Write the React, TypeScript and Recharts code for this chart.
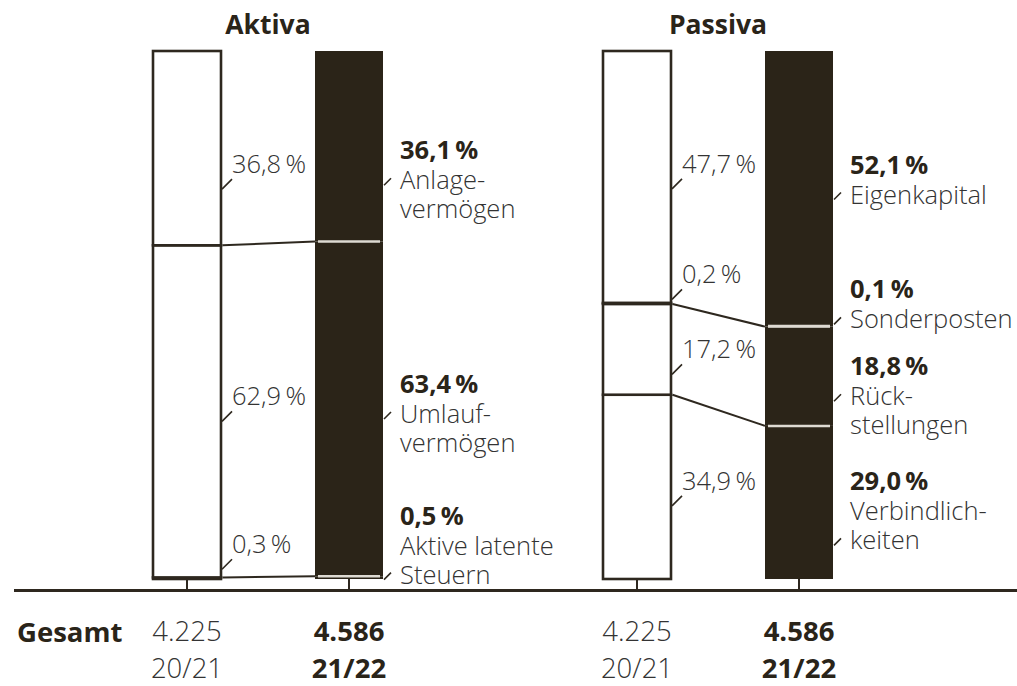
import React from "react";
import { BarChart, Bar, XAxis, YAxis } from "recharts";

const FONT = "'Open Sans', 'DejaVu Sans', sans-serif";
const INK = "#2e281f";
const DARK = "#2b2418";
const TEXT = "#333333";
const BOLD_INK = "#2a2419";
const FS = 25.5;
const FS_TOTAL = 27.5;

const years = ["20/21", "21/22"];

// Bilanzsumme in Mio. €
const aktivaTotal = [4225, 4586];
const passivaTotal = [4225, 4586];

// Aktiva, Anteile in %
const anlagevermoegen = [36.8, 36.1];
const umlaufvermoegen = [62.9, 63.4];
const latenteSteuern = [0.3, 0.5];

// Passiva, Anteile in %
const eigenkapital = [47.7, 52.1];
const sonderposten = [0.2, 0.1];
const rueckstellungen = [17.2, 18.8];
const verbindlichkeiten = [34.9, 29.0];

const aktivaRows = years.map((year, i) => ({
  year,
  latente: latenteSteuern[i],
  umlauf: umlaufvermoegen[i],
  anlage: anlagevermoegen[i],
}));

const passivaRows = years.map((year, i) => ({
  year,
  verb: verbindlichkeiten[i],
  rueck: rueckstellungen[i],
  sonder: sonderposten[i],
  eigen: eigenkapital[i],
}));

type Series = { key: string; lines: string[]; connect: boolean; dividerBelow: boolean };
type Place = { prevDy: number; curDy: number; tickLine: number };

// stacked bottom to top
const aktivaSeries: Series[] = [
  { key: "latente", lines: ["Aktive latente", "Steuern"], connect: true, dividerBelow: false },
  { key: "umlauf", lines: ["Umlauf-", "vermögen"], connect: true, dividerBelow: true },
  { key: "anlage", lines: ["Anlage-", "vermögen"], connect: false, dividerBelow: true },
];

const passivaSeries: Series[] = [
  { key: "verb", lines: ["Verbindlich-", "keiten"], connect: true, dividerBelow: false },
  { key: "rueck", lines: ["Rück-", "stellungen"], connect: true, dividerBelow: true },
  { key: "sonder", lines: ["Sonderposten"], connect: false, dividerBelow: true },
  { key: "eigen", lines: ["Eigenkapital"], connect: false, dividerBelow: true },
];

// label offsets from the segment middle (px)
const PLACES: Record<string, Place> = {
  latente: { prevDy: -35, curDy: -63, tickLine: 2 },
  umlauf: { prevDy: -16, curDy: -26, tickLine: 1 },
  anlage: { prevDy: 15, curDy: 3, tickLine: 1 },
  verb: { prevDy: -7, curDy: -22, tickLine: 2 },
  rueck: { prevDy: -1, curDy: -11, tickLine: 1 },
  sonder: { prevDy: -30, curDy: -38, tickLine: 1 },
  eigen: { prevDy: -14, curDy: -25, tickLine: 1 },
};

const fmtPct = (v: number) => v.toFixed(1).replace(".", ",") + "\u2009%";
const fmtTotal = (v: number) => String(v).replace(/\B(?=(\d{3})+(?!\d))/g, ".");

const txt = (bold: boolean, size = FS): React.CSSProperties => ({
  fontFamily: FONT,
  fontSize: size,
  fontWeight: bold ? 700 : 300,
  fill: bold ? BOLD_INK : TEXT,
});

function makeShape(s: Series, place: Place, stash: Record<string, { x: number; y: number }>) {
  return (p: any) => {
    const { x, y, width, height, index, payload } = p;
    const mid = y + height / 2;
    const right = x + width;
    const pct = fmtPct(payload[s.key]);

    if (index === 0) {
      // previous year: white bar with outline
      stash[s.key] = { x: right + 1.5, y };
      const ty = mid + place.prevDy;
      return (
        <g>
          <rect x={x} y={y} width={width} height={height} fill="#fff" stroke={INK} strokeWidth={2.6} />
          <line x1={right + 1} y1={ty + 26} x2={right + 11} y2={ty + 16} stroke={INK} strokeWidth={1.6} />
          <text x={right + 11} y={ty} dominantBaseline="central" style={txt(false)}>
            {pct}
          </text>
        </g>
      );
    }

    const from = stash[s.key];
    const base = mid + place.curDy;
    const lineY = (i: number) => (i === 0 ? base : base + 30 + (i - 1) * 29);
    const ty = lineY(place.tickLine) + 6;
    return (
      <g>
        <rect x={x} y={y} width={width} height={height} fill={DARK} />
        {s.dividerBelow && (
          <line x1={x + 3} x2={right - 3} y1={y + height} y2={y + height} stroke="#dedad2" strokeWidth={2.5} />
        )}
        {s.connect && from && <line x1={from.x} y1={from.y} x2={x} y2={y} stroke={INK} strokeWidth={2} />}
        <line x1={right + 1} y1={ty} x2={right + 8} y2={ty - 7} stroke={INK} strokeWidth={1.6} />
        <text x={right + 17} y={lineY(0)} dominantBaseline="central" style={txt(true)}>
          {pct}
        </text>
        {s.lines.map((l, i) => (
          <text key={l} x={right + 17} y={lineY(i + 1)} dominantBaseline="central" style={txt(false)}>
            {l}
          </text>
        ))}
      </g>
    );
  };
}

function TotalTick(props: any) {
  const { x, y, payload, index, totals } = props;
  const bold = index === 1;
  return (
    <g>
      <text x={x} y={y + 41} textAnchor="middle" dominantBaseline="central" style={txt(bold, FS_TOTAL)}>
        {fmtTotal(totals[index])}
      </text>
      <text x={x} y={y + 78} textAnchor="middle" dominantBaseline="central" style={txt(bold, FS_TOTAL)}>
        {payload.value}
      </text>
    </g>
  );
}

interface GroupProps {
  title: string;
  rows: any[];
  series: Series[];
  totals: number[];
  left: number;
  width: number;
}

function GroupChart({ title, rows, series, totals, left, width }: GroupProps) {
  const stash: Record<string, { x: number; y: number }> = {};
  return (
    <div style={{ position: "absolute", left, top: 0, width, height: 686 }}>
      <div
        style={{
          position: "absolute",
          left: 106,
          top: 7,
          width: 324,
          textAlign: "center",
          fontFamily: FONT,
          fontWeight: 700,
          fontSize: 26.5,
          lineHeight: "34px",
          color: BOLD_INK,
        }}
      >
        {title}
      </div>
      <BarChart
        width={width}
        height={686}
        data={rows}
        margin={{ top: 51, right: width - 430, bottom: 0, left: 106 }}
      >
        <XAxis
          dataKey="year"
          height={107}
          axisLine={false}
          tickLine={{ stroke: INK, strokeWidth: 2 }}
          tickSize={10}
          tickMargin={0}
          interval={0}
          tick={<TotalTick totals={totals} />}
        />
        <YAxis hide domain={[0, 100]} />
        {series.map((s) => (
          <Bar
            key={s.key}
            dataKey={s.key}
            stackId="s"
            barSize={68}
            isAnimationActive={false}
            shape={makeShape(s, PLACES[s.key], stash)}
          />
        ))}
      </BarChart>
    </div>
  );
}

export default function App() {
  return (
    <div
      style={{
        position: "absolute",
        left: 0,
        top: 0,
        width: 1017,
        height: 686,
        background: "#fff",
        overflow: "hidden",
      }}
    >
      <GroupChart title="Aktiva" rows={aktivaRows} series={aktivaSeries} totals={aktivaTotal} left={0} width={560} />
      <GroupChart title="Passiva" rows={passivaRows} series={passivaSeries} totals={passivaTotal} left={450} width={567} />
      <div style={{ position: "absolute", left: 14, top: 589, width: 1003, height: 3, background: INK }} />
      <div
        style={{
          position: "absolute",
          left: 17,
          top: 614,
          fontFamily: FONT,
          fontWeight: 700,
          fontSize: FS_TOTAL,
          lineHeight: "36px",
          color: BOLD_INK,
        }}
      >
        Gesamt
      </div>
    </div>
  );
}
